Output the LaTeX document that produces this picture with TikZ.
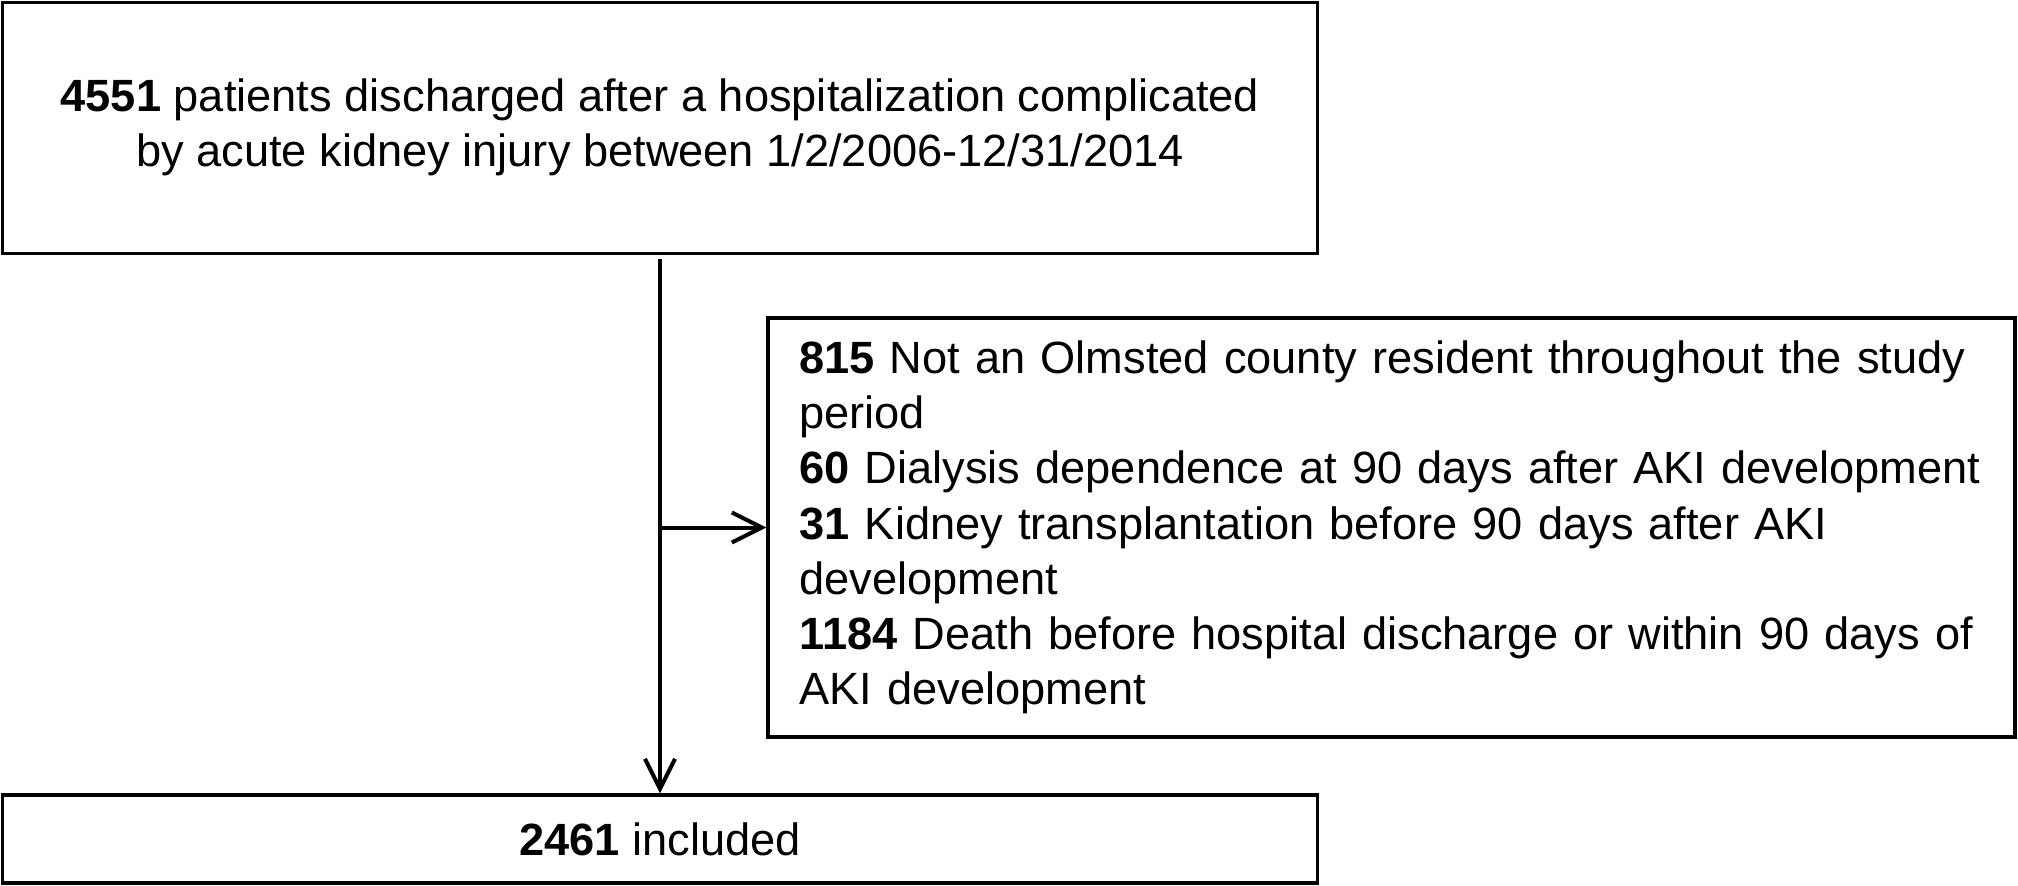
\documentclass[tikz,border=0pt]{standalone}
\usepackage{fontspec}
\setmainfont{Liberation Sans}
\usetikzlibrary{arrows.meta}

\tikzset{
	flowbox/.style={draw, line width=1.7pt, inner sep=0pt, font=\fontsize{22.6}{27.6}\selectfont},
	flowline/.style={line width=2pt, -{Straight Barb[length=15pt, width=15pt, line width=2pt]}}
}

\begin{document}
\begin{tikzpicture}[x=0.5pt, y=-0.5pt]

	\useasboundingbox (0,0) rectangle (2018,885);

	\node[flowbox, minimum width=657.5pt, minimum height=125.5pt, align=center] (all) at (660,128)
		{\textbf{4551} patients discharged after a hospitalization complicated\\by acute kidney injury between 1/2/2006-12/31/2014\rule[-5pt]{0pt}{5pt}};
	\node[flowbox, minimum width=623.5pt, minimum height=209.5pt, align=left, text width=592pt, inner xsep=15.5pt] (excl) at (1391.5,527.5)
		{\textbf{815} Not an Olmsted county resident throughout the study\\period\\
		\textbf{60} Dialysis dependence at 90 days after AKI development\\
		\textbf{31} Kidney transplantation before 90 days after AKI\\development\\
		\textbf{1184} Death before hospital discharge or within 90 days of\\AKI development\rule[-4pt]{0pt}{4pt}};
	\node[flowbox, minimum width=657.5pt, minimum height=44pt, align=center] (incl) at (660,839)
		{\textbf{2461} included};

	\draw[flowline, shorten <=2pt] (all.south) -- (incl.north);
	\draw[flowline] (all.south |- excl.west) -- (excl.west);

\end{tikzpicture}
\end{document}
